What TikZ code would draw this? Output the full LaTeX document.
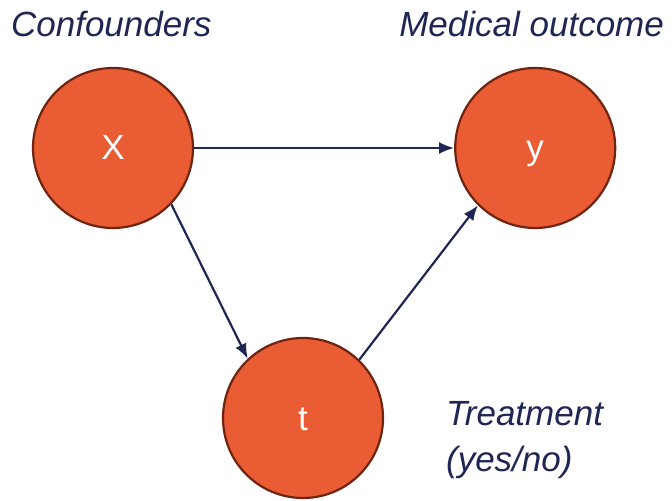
\documentclass[tikz,border=0pt]{standalone}
\usepackage{fontspec}
\setmainfont{Liberation Sans}
\usepackage{tikz}
\usetikzlibrary{positioning, arrows.meta}

\definecolor{nodefill}{HTML}{E95C34}
\definecolor{nodeedge}{HTML}{6E2410}
\definecolor{navy}{HTML}{1F2654}

\begin{document}
\begin{tikzpicture}[x=1bp, y=1bp, ->, >={Latex[length=15bp, width=12bp]}, line width=2.2bp, node distance=260bp,
  main node/.style={circle, draw=nodeedge, fill=nodefill, minimum size=160bp, inner sep=0pt, text height=24bp, text depth=0pt, text=white, font=\fontsize{35bp}{40bp}\selectfont},
  label node/.style={inner sep=0pt, text=navy, font=\fontsize{35bp}{46bp}\selectfont\itshape}]

  \useasboundingbox (0,0) rectangle (672,-501);

  % Define nodes
  \node[main node] (x) at (113,-148) {X};
  \node[main node] (y) [right=of x] {y};
  \node[main node] (t) at (303,-418) {t};

  % Labels
  \node[label node, anchor=base west] (conf) at (10,-37) {Confounders};
  \node[label node, anchor=base east] (outc) at (665,-37) {Medical outcome};
  \node[label node, anchor=north west, align=left] (treat) at (445,-400) {Treatment\\(yes/no)};

  % Define edges
  \path[navy]
    (x.east) edge (y.west)
    (x.-44) edge (t.133)
    (t.46) edge (y.225);
\end{tikzpicture}
\end{document}
